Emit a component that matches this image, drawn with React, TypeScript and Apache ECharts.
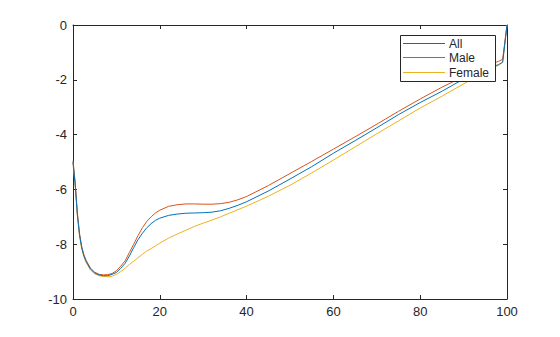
import React, { useEffect, useRef } from "react";
import * as echarts from "echarts";

const xs = [0, 0.5, 1, 1.5, 2, 2.5, 3, 4, 5, 6, 7, 8, 9, 10, 11, 12, 13, 14, 15, 16, 17, 18, 19, 20, 22, 24, 26, 28, 30, 32, 34, 36, 38, 40, 45, 50, 55, 60, 65, 70, 75, 80, 85, 90, 95, 97, 98, 99, 100];

const allValues = [-5.0, -5.8, -6.9, -7.65, -8.12, -8.42, -8.62, -8.9, -9.05, -9.12, -9.15, -9.15, -9.1, -9.03, -8.88, -8.7, -8.43, -8.12, -7.83, -7.6, -7.4, -7.25, -7.13, -7.05, -6.95, -6.9, -6.87, -6.86, -6.85, -6.83, -6.78, -6.69, -6.58, -6.45, -6.06, -5.62, -5.17, -4.68, -4.22, -3.75, -3.27, -2.83, -2.42, -1.97, -1.62, -1.5, -1.45, -1.36, 0];

const maleValues = [-4.95, -5.75, -6.85, -7.6, -8.08, -8.38, -8.58, -8.87, -9.02, -9.1, -9.12, -9.11, -9.07, -8.97, -8.8, -8.61, -8.3, -8.0, -7.68, -7.4, -7.17, -7.0, -6.86, -6.76, -6.62, -6.56, -6.53, -6.53, -6.54, -6.54, -6.52, -6.47, -6.38, -6.26, -5.86, -5.42, -4.98, -4.53, -4.08, -3.62, -3.15, -2.7, -2.27, -1.88, -1.5, -1.38, -1.33, -1.25, 0];

const femaleValues = [-5.05, -5.85, -6.95, -7.7, -8.16, -8.46, -8.66, -8.94, -9.08, -9.15, -9.18, -9.19, -9.17, -9.1, -9.0, -8.88, -8.74, -8.62, -8.49, -8.37, -8.25, -8.16, -8.06, -7.96, -7.78, -7.63, -7.49, -7.35, -7.23, -7.12, -7.0, -6.87, -6.74, -6.61, -6.25, -5.85, -5.4, -4.93, -4.45, -3.97, -3.5, -3.03, -2.6, -2.15, -1.7, -1.53, -1.48, -1.36, 0];

const seriesNames = ["All", "Male", "Female"];
const seriesColors = ["#0072BD", "#D95319", "#EDB120"];
const seriesValues = [allValues, maleValues, femaleValues];

const AXIS = "#262626";
const FONT = "'Liberation Sans', Arial, Helvetica, sans-serif";

export default function App() {
  const ref = useRef<HTMLDivElement>(null);
  useEffect(() => {
    if (!ref.current) return;
    const chart = echarts.init(ref.current, undefined, { renderer: "svg" });
    const axisBase = {
      type: "value" as const,
      axisLine: { show: true, onZero: false, lineStyle: { color: AXIS, width: 1 } },
      axisTick: { show: true, inside: true, length: 4, lineStyle: { color: AXIS } },
      splitLine: { show: false },
    };
    const rowYs = [8.5, 22.5, 37.5];
    const legendChildren: any[] = [
      {
        type: "rect",
        z: 100,
        shape: { x: 0.5, y: 0.5, width: 95, height: 46 },
        style: { fill: "#ffffff", stroke: AXIS, lineWidth: 1 },
      },
    ];
    seriesNames.forEach((name, i) => {
      const cy = rowYs[i];
      legendChildren.push({
        type: "line",
        z: 101,
        shape: { x1: 3, y1: cy, x2: 45, y2: cy },
        style: { stroke: seriesColors[i], lineWidth: 1 },
      });
      legendChildren.push({
        type: "text",
        z: 101,
        x: 49,
        y: cy,
        style: {
          text: name,
          fill: AXIS,
          fontSize: 12,
          fontFamily: FONT,
          verticalAlign: "middle",
          align: "left",
        },
      });
    });
    chart.setOption({
      animation: false,
      backgroundColor: "#ffffff",
      grid: { left: 73, right: 53, top: 25, bottom: 38, containLabel: false },
      xAxis: [
        {
          ...axisBase,
          position: "bottom",
          min: 0,
          max: 100,
          interval: 20,
          axisLabel: { color: AXIS, fontSize: 13, fontFamily: FONT, margin: 6 },
        },
        {
          ...axisBase,
          position: "top",
          min: 0,
          max: 100,
          interval: 20,
          axisLabel: { show: false },
        },
      ],
      yAxis: [
        {
          ...axisBase,
          position: "left",
          min: -10,
          max: 0,
          interval: 2,
          axisLabel: { color: AXIS, fontSize: 13, fontFamily: FONT, margin: 6 },
        },
        {
          ...axisBase,
          position: "right",
          min: -10,
          max: 0,
          interval: 2,
          axisLabel: { show: false },
        },
      ],
      graphic: [
        {
          type: "group",
          left: 400,
          top: 35,
          z: 100,
          children: legendChildren,
        },
      ],
      series: seriesNames.map((name, i) => ({
        name,
        type: "line",
        xAxisIndex: 0,
        yAxisIndex: 0,
        data: xs.map((x, j) => [x, seriesValues[i][j]]),
        showSymbol: false,
        symbol: "none",
        smooth: false,
        color: seriesColors[i],
        lineStyle: { color: seriesColors[i], width: 1 },
        z: 2 + (2 - i),
      })),
    });
    return () => chart.dispose();
  }, []);
  return <div ref={ref} style={{ width: 560, height: 337, position: "absolute", left: 0, top: 0 }} />;
}
